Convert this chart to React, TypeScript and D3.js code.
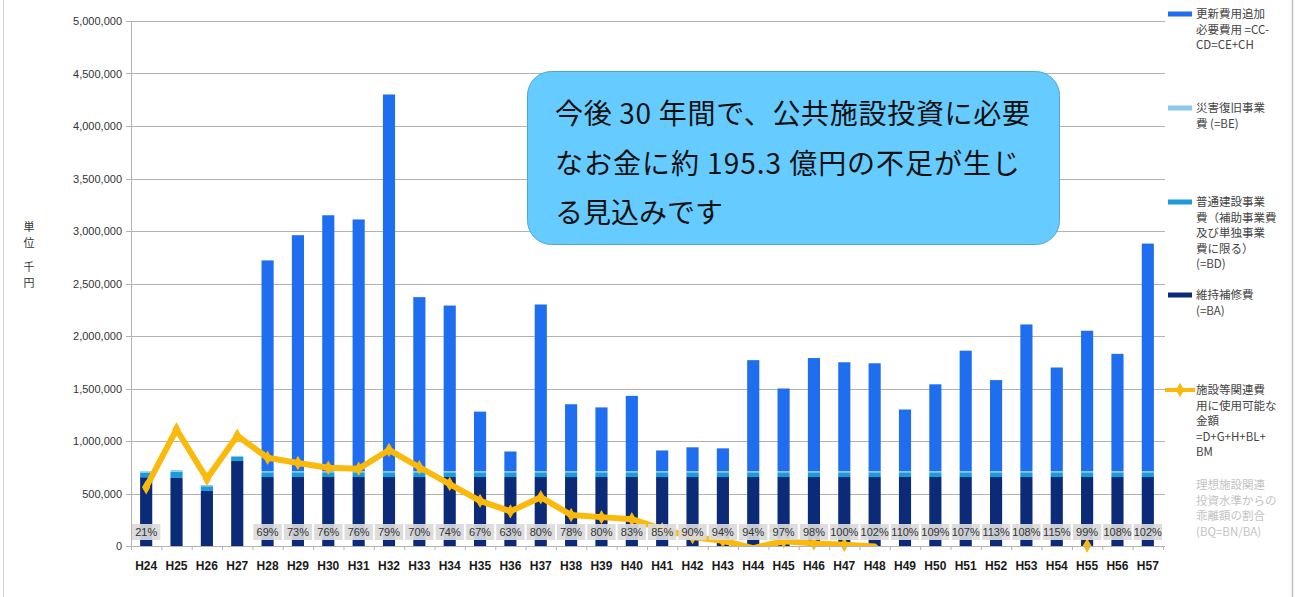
import React from 'react';
import * as d3 from 'd3';

const categories = ['H24','H25','H26','H27','H28','H29','H30','H31','H32','H33','H34','H35','H36','H37','H38','H39','H40','H41','H42','H43','H44','H45','H46','H47','H48','H49','H50','H51','H52','H53','H54','H55','H56','H57'];

// 維持補修費 (=BA)
const maintenance = [655000,648000,524000,810000,657000,657000,657000,657000,657000,657000,657000,657000,657000,657000,657000,657000,657000,657000,657000,657000,657000,657000,657000,657000,657000,657000,657000,657000,657000,657000,657000,657000,657000,657000];
// 普通建設事業費 (=BD)
const ordinaryConstruction = [45000,60000,45000,38000,45000,45000,45000,45000,45000,45000,45000,45000,45000,45000,45000,45000,45000,45000,45000,45000,45000,45000,45000,45000,45000,45000,45000,45000,45000,45000,45000,45000,45000,45000];
// 災害復旧事業費 (=BE)
const disasterRecovery = [12000,15000,12000,10000,12000,12000,12000,12000,12000,12000,12000,12000,12000,12000,12000,12000,12000,12000,12000,12000,12000,12000,12000,12000,12000,12000,12000,12000,12000,12000,12000,12000,12000,12000];
// 更新費用追加必要費用
const renewalAdditional = [0,0,0,0,2006000,2246000,2436000,2396000,3586000,1656000,1576000,566000,186000,1586000,636000,606000,716000,196000,226000,216000,1056000,786000,1076000,1036000,1026000,586000,826000,1146000,866000,1396000,986000,1336000,1116000,2166000];
// 施設等関連費用に使用可能な金額
const availableFunds = [560000,1110000,640000,1050000,840000,790000,745000,735000,915000,750000,590000,430000,330000,465000,295000,275000,255000,160000,85000,50000,-20000,45000,25000,12000,-5000,-300000,-300000,-300000,-300000,-300000,-300000,5000,-300000,-300000];
// 乖離額の割合
const ratioLabels = ['21%','','','','69%','73%','76%','76%','79%','70%','74%','67%','63%','80%','78%','80%','83%','85%','90%','94%','94%','97%','98%','100%','102%','110%','109%','107%','113%','108%','115%','99%','108%','102%'];

const yTicks = [0,500000,1000000,1500000,2000000,2500000,3000000,3500000,4000000,4500000,5000000];

const seriesKeys = ['maintenance','ordinary','disaster','renewal'];
const seriesColors: Record<string,string> = {
  maintenance: '#0b2a78',
  ordinary: '#1d9ad8',
  disaster: '#8ec8ea',
  renewal: '#1f6ef0',
};
const lineColor = '#fbb90c';

const legendItems = [
  { kind: 'rect', color: seriesColors.renewal, y: 14, lines: ['更新費用追加', '必要費用 =CC-', 'CD=CE+CH'], textColor: '#444' },
  { kind: 'rect', color: seriesColors.disaster, y: 108, lines: ['災害復旧事業', '費 (=BE)'], textColor: '#444' },
  { kind: 'rect', color: seriesColors.ordinary, y: 202, lines: ['普通建設事業', '費（補助事業費', '及び単独事業', '費に限る）', '(=BD)'], textColor: '#444' },
  { kind: 'rect', color: seriesColors.maintenance, y: 295, lines: ['維持補修費', '(=BA)'], textColor: '#444' },
  { kind: 'line', color: lineColor, y: 390, lines: ['施設等関連費', '用に使用可能な', '金額', '=D+G+H+BL+', 'BM'], textColor: '#444' },
  { kind: 'none', color: '', y: 485, lines: ['理想施設関連', '投資水準からの', '乖離額の割合', '(BQ=BN/BA)'], textColor: '#c4c4c4' },
];

const calloutLines = ['今後 30 年間で、公共施設投資に必要', 'なお金に約 195.3 億円の不足が生じ', 'る見込みです'];

export default function App() {
  const W = 1297, H = 597;
  const left = 131, right = 1163, top = 21, bottom = 546;
  const x = d3.scaleBand<string>().domain(categories).range([left, right]).paddingInner(0.6).paddingOuter(0.3);
  const y = d3.scaleLinear().domain([0, 5000000]).range([bottom, top]);
  const step = x.step();
  const cx = (c: string) => (x(c) as number) + x.bandwidth() / 2;

  const rows = categories.map((c, i) => ({
    cat: c,
    maintenance: maintenance[i],
    ordinary: ordinaryConstruction[i],
    disaster: disasterRecovery[i],
    renewal: renewalAdditional[i],
  }));
  const stacked = d3.stack<any>().keys(seriesKeys)(rows);

  const linePts = categories.map((c, i) => [cx(c), y(availableFunds[i])] as [number, number]);
  const linePath = d3.line()(linePts) || '';
  const diamond = d3.symbol().type(d3.symbolDiamond).size(60)() || '';
  const fmt = d3.format(',');

  const font = '"Liberation Sans", Arial, "Noto Sans CJK JP", sans-serif';
  const jpFont = '"Noto Sans CJK JP", "Liberation Sans", sans-serif';

  return (
    <svg width={W} height={H} style={{ position: 'absolute', left: 0, top: 0, background: '#fff' }} fontFamily={font}>
      <defs>
        <clipPath id="plotClip">
          <rect x={left} y={0} width={right - left} height={bottom + 1} />
        </clipPath>
      </defs>
      <rect x={0} y={0} width={W} height={H} fill="#fff" />
      <line x1={3.5} x2={3.5} y1={0} y2={H} stroke="#cfcfcf" />
      <line x1={1292.5} x2={1292.5} y1={0} y2={H} stroke="#bdbdbd" strokeWidth={1.5} />

      {/* gridlines */}
      {yTicks.map(t => (
        <line key={t} x1={left - 5} x2={right + 2} y1={Math.round(y(t)) + 0.5} y2={Math.round(y(t)) + 0.5} stroke="#b3b3b3" />
      ))}
      <line x1={left + 0.5} x2={left + 0.5} y1={top} y2={bottom} stroke="#b3b3b3" />
      {yTicks.map(t => (
        <text key={'l' + t} x={122} y={y(t) + 4} textAnchor="end" fontSize={11} fill="#333">{fmt(t)}</text>
      ))}

      {/* axis title */}
      <g fontFamily={jpFont} fontSize={11} fill="#333" textAnchor="middle">
        <text x={29} y={231}>単</text>
        <text x={29} y={247}>位</text>
        <text x={29} y={271}>千</text>
        <text x={29} y={287}>円</text>
      </g>

      {/* bars */}
      {stacked.map(layer => (
        <g key={layer.key} fill={seriesColors[layer.key]}>
          {layer.map((d, i) => (
            d[1] - d[0] > 0 ? (
              <rect key={i} x={x(categories[i])} width={x.bandwidth()} y={y(d[1])} height={y(d[0]) - y(d[1])} />
            ) : null
          ))}
        </g>
      ))}

      {/* line */}
      <g clipPath="url(#plotClip)">
        <path d={linePath} fill="none" stroke={lineColor} strokeWidth={6} strokeLinejoin="round" />
      </g>
      {linePts.map((p, i) => availableFunds[i] >= 0 ? (
        <path key={i} d={diamond} transform={`translate(${p[0]},${p[1]})`} fill={lineColor} />
      ) : null)}

      {/* ratio labels */}
      {categories.map((c, i) => ratioLabels[i] ? (
        <g key={'r' + c}>
          <rect x={cx(c) - step / 2 + 1} y={524} width={step - 2} height={16} fill="#dadada" opacity={0.92} />
          <text x={cx(c)} y={536} textAnchor="middle" fontSize={11} fill="#333">{ratioLabels[i]}</text>
        </g>
      ) : null)}

      {/* x axis */}
      <line x1={left} x2={right} y1={bottom + 0.5} y2={bottom + 0.5} stroke="#b3b3b3" />
      {d3.range(categories.length + 1).map(i => (
        <line key={'t' + i} x1={left + i * step + 0.5} x2={left + i * step + 0.5} y1={bottom} y2={bottom + 4} stroke="#b3b3b3" />
      ))}
      {categories.map(c => (
        <text key={'x' + c} x={cx(c)} y={570} textAnchor="middle" fontSize={12} fontWeight="bold" fill="#1a1a1a">{c}</text>
      ))}

      {/* legend */}
      <g fontFamily={jpFont} fontSize={11.5}>
        {legendItems.map((it, k) => (
          <g key={'lg' + k}>
            {it.kind === 'rect' && <rect x={1168} y={it.y - 2.5} width={24} height={5} fill={it.color} />}
            {it.kind === 'line' && (
              <g>
                <line x1={1165} x2={1195} y1={it.y} y2={it.y} stroke={it.color} strokeWidth={4} />
                <path d={diamond} transform={`translate(1180,${it.y})`} fill={it.color} />
              </g>
            )}
            {it.lines.map((ln, j) => (
              <text key={j} x={1196} y={it.y + 4 + j * 15.6} fill={it.textColor}>{ln}</text>
            ))}
          </g>
        ))}
      </g>

      {/* callout */}
      <rect x={527.5} y={71.5} width={532} height={173} rx={24} ry={24} fill="#66ccff" stroke="#4aa6dc" strokeWidth={1} />
      <g fontFamily={jpFont} fontSize={28} fill="#111">
        <text x={555} y={124} textLength={475} lengthAdjust="spacing">{calloutLines[0]}</text>
        <text x={555} y={174} textLength={465} lengthAdjust="spacing">{calloutLines[1]}</text>
        <text x={555} y={223}>{calloutLines[2]}</text>
      </g>
    </svg>
  );
}
